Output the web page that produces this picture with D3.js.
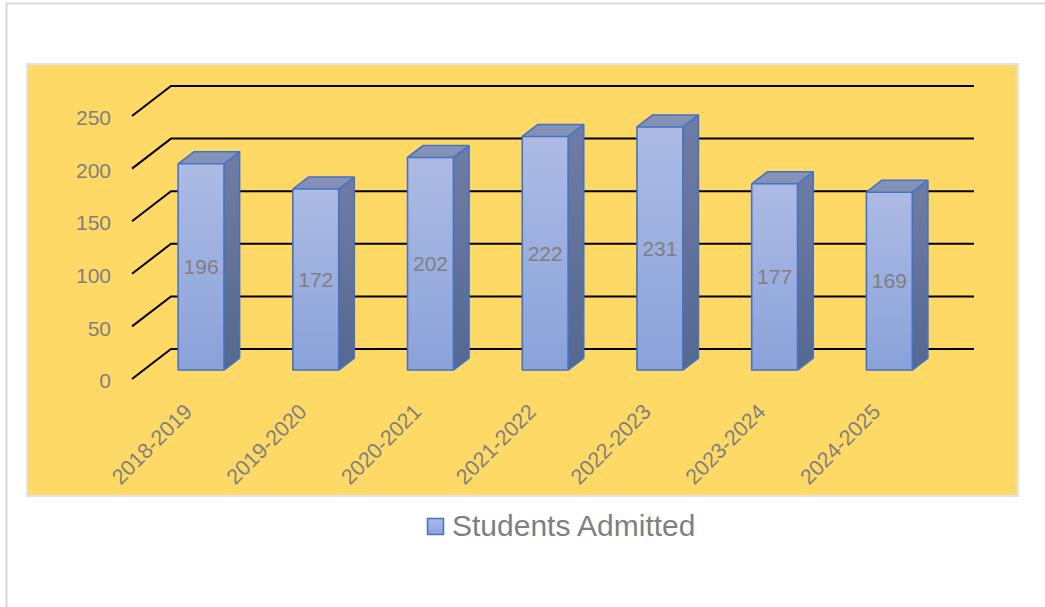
<!DOCTYPE html>
<html>
<head>
<meta charset="utf-8">
<script src="https://cdn.jsdelivr.net/npm/d3@7"></script>
<style>
  body { margin: 0; background: #fff; }
  svg { display: block; }
</style>
</head>
<body>
<script>
const years = ["2018-2019", "2019-2020", "2020-2021", "2021-2022", "2022-2023", "2023-2024", "2024-2025"];
const admitted = [196, 172, 202, 222, 231, 177, 169];
const yTicks = [0, 50, 100, 150, 200, 250];
const seriesName = "Students Admitted";

const W = 1045, H = 607;
const font = "'Liberation Sans', Arial, sans-serif";
const grey = "#7f7f7f";

// depth of the floor: back wall sits this far up/right of the front edge
const depth = { dx: 39, dy: -30 };
const barFront = 0.3, barBack = 0.7;

const svg = d3.select("body").append("svg")
  .attr("width", W)
  .attr("height", H);

const defs = svg.append("defs");
function grad(id, c0, c1) {
  const g = defs.append("linearGradient").attr("id", id)
    .attr("x1", 0).attr("y1", 0).attr("x2", 0).attr("y2", 1);
  g.append("stop").attr("offset", 0).attr("stop-color", c0);
  g.append("stop").attr("offset", 1).attr("stop-color", c1);
}
grad("front", "#adbbe4", "#8aa2da");
grad("side", "#6f7da6", "#55688f");
grad("top", "#8793b9", "#8290b6");

// outer frame
svg.append("rect")
  .attr("x", 6.5).attr("y", 3.5)
  .attr("width", W + 20).attr("height", H + 20)
  .attr("fill", "#fff")
  .attr("stroke", "#d9d9d9")
  .attr("stroke-width", 2);

// plot background
svg.append("rect")
  .attr("x", 27).attr("y", 64)
  .attr("width", 991).attr("height", 432)
  .attr("fill", "#ffd966")
  .attr("stroke", "#e3e3e3")
  .attr("stroke-width", 2);

// scales on the front plane
const x = d3.scaleBand().domain(years).range([132, 935]);
const y = d3.scaleLinear().domain([0, 250]).range([379, 116]);

const proj = (px, py, d) => [px + depth.dx * d, py + depth.dy * d];

// gridlines: diagonal on the floor side + line along the back wall
const gridLine = d3.line();
svg.append("g")
  .selectAll("path")
  .data(yTicks)
  .enter()
  .append("path")
  .attr("d", (v) => gridLine([
    [x.range()[0], y(v)],
    proj(x.range()[0], y(v), 1),
    proj(x.range()[1], y(v), 1)
  ]))
  .attr("fill", "none")
  .attr("stroke", "#000")
  .attr("stroke-width", 2);

// y axis labels
const yAxis = d3.axisLeft(y).tickValues(yTicks).tickSize(0).tickPadding(21);
const gy = svg.append("g")
  .attr("transform", `translate(${x.range()[0]},2)`)
  .call(yAxis);
gy.select(".domain").remove();
gy.selectAll("text")
  .attr("font-family", font)
  .attr("font-size", 21)
  .attr("fill", grey);

// x axis labels, rotated
const xAxis = d3.axisBottom(x).tickSize(0);
const gx = svg.append("g")
  .attr("transform", `translate(0,${y(0)})`)
  .call(xAxis);
gx.select(".domain").remove();
gx.selectAll("text")
  .attr("y", 0)
  .attr("dy", 0)
  .attr("text-anchor", "end")
  .attr("transform", "translate(4,34) rotate(-45)")
  .attr("font-family", font)
  .attr("font-size", 21.5)
  .attr("fill", grey);

// 3d bars
const bw = x.bandwidth() * 0.4;
const bars = svg.append("g")
  .selectAll("g")
  .data(years.map((k, i) => ({ k, v: admitted[i] })))
  .enter()
  .append("g");

function face(d, pts) {
  return d3.line()(pts) + "Z";
}
function corners(d) {
  const cx = x(d.k) + x.bandwidth() / 2;
  const x0 = cx - bw / 2, x1 = cx + bw / 2;
  const y0 = y(0), y1 = y(d.v);
  return {
    fbl: proj(x0, y0, barFront), fbr: proj(x1, y0, barFront),
    ftl: proj(x0, y1, barFront), ftr: proj(x1, y1, barFront),
    bbr: proj(x1, y0, barBack), btl: proj(x0, y1, barBack), btr: proj(x1, y1, barBack)
  };
}

bars.append("path")
  .attr("d", (d) => { const c = corners(d); return face(d, [c.fbr, c.ftr, c.btr, c.bbr]); })
  .attr("fill", "url(#side)");
bars.append("path")
  .attr("d", (d) => { const c = corners(d); return face(d, [c.ftl, c.btl, c.btr, c.ftr]); })
  .attr("fill", "url(#top)");
bars.append("path")
  .attr("d", (d) => { const c = corners(d); return face(d, [c.fbl, c.ftl, c.ftr, c.fbr]); })
  .attr("fill", "url(#front)");
// outline
bars.append("path")
  .attr("d", (d) => {
    const c = corners(d);
    return face(d, [c.fbl, c.ftl, c.btl, c.btr, c.bbr, c.fbr]) +
      d3.line()([c.ftl, c.ftr, c.fbr]) + d3.line()([c.ftr, c.btr]);
  })
  .attr("fill", "none")
  .attr("stroke", "#4472c4")
  .attr("stroke-width", 1.6)
  .attr("stroke-linejoin", "round");

// value labels on the front face
bars.append("text")
  .attr("x", (d) => proj(x(d.k) + x.bandwidth() / 2, 0, barFront)[0])
  .attr("y", (d) => (proj(0, y(0), barFront)[1] + proj(0, y(d.v), barFront)[1]) / 2)
  .attr("dy", "0.35em")
  .attr("text-anchor", "middle")
  .attr("font-family", font)
  .attr("font-size", 21)
  .attr("fill", grey)
  .text((d) => d.v);

// legend
const legend = svg.append("g").attr("transform", "translate(427,518)");
legend.append("rect")
  .attr("x", 0.5).attr("y", 0.5)
  .attr("width", 16).attr("height", 16)
  .attr("fill", "url(#front)")
  .attr("stroke", "#4472c4")
  .attr("stroke-width", 1.5);
legend.append("text")
  .attr("x", 25)
  .attr("y", 18)
  .attr("font-family", font)
  .attr("font-size", 30)
  .attr("fill", grey)
  .text(seriesName);
</script>
</body>
</html>
